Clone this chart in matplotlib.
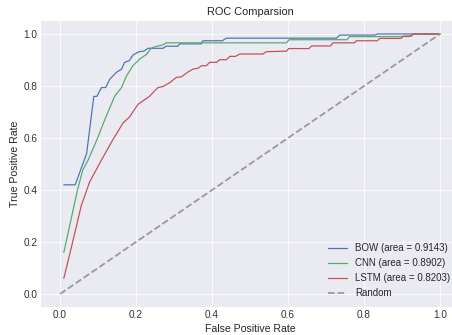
import numpy as np
import matplotlib
matplotlib.use('Agg')
import matplotlib.pyplot as plt

plt.style.use('seaborn-v0_8-darkgrid')
plt.rcParams['font.family'] = ['Liberation Sans', 'DejaVu Sans']

# ROC points
bow_fpr = [0.01, 0.04, 0.07, 0.089, 0.097, 0.109, 0.12, 0.131, 0.148, 0.162, 0.17, 0.182,
           0.192, 0.208, 0.22, 0.232, 0.271, 0.28, 0.31, 0.315, 0.372, 0.376, 0.427,
           0.438, 0.728, 0.736, 0.828, 0.835, 1.0]
bow_tpr = [0.42, 0.42, 0.54, 0.76, 0.76, 0.794, 0.794, 0.826, 0.852, 0.865, 0.891, 0.897,
           0.919, 0.932, 0.934, 0.945, 0.945, 0.953, 0.953, 0.962, 0.962, 0.974, 0.974,
           0.984, 0.984, 0.996, 0.996, 1.0, 1.0]

cnn_fpr = [0.01, 0.046, 0.06, 0.074, 0.097, 0.118, 0.144, 0.162, 0.175, 0.192, 0.21,
           0.227, 0.24, 0.254, 0.271, 0.28, 0.596, 0.603, 0.755, 0.762, 0.92, 0.928, 1.0]
cnn_tpr = [0.16, 0.40, 0.477, 0.515, 0.593, 0.671, 0.761, 0.794, 0.839, 0.878, 0.904,
           0.921, 0.945, 0.953, 0.958, 0.966, 0.966, 0.978, 0.978, 0.99, 0.99, 1.0, 1.0]

lstm_fpr = [0.01, 0.03, 0.056, 0.078, 0.109, 0.139, 0.166, 0.183, 0.205, 0.236, 0.249,
            0.258, 0.271, 0.289, 0.306, 0.319, 0.337, 0.35, 0.363, 0.372, 0.385, 0.394,
            0.412, 0.42, 0.438, 0.447, 0.462, 0.473, 0.534, 0.543, 0.596, 0.602, 0.655,
            0.662, 0.712, 0.718, 0.775, 0.78, 0.835, 0.841, 0.898, 0.903, 0.925, 0.93, 1.0]
lstm_tpr = [0.06, 0.18, 0.34, 0.431, 0.515, 0.593, 0.658, 0.681, 0.729, 0.761, 0.781,
            0.794, 0.798, 0.813, 0.833, 0.835, 0.854, 0.865, 0.868, 0.878, 0.878, 0.891,
            0.891, 0.901, 0.901, 0.914, 0.914, 0.923, 0.923, 0.932, 0.934, 0.944, 0.944,
            0.954, 0.954, 0.966, 0.966, 0.974, 0.974, 0.983, 0.983, 0.992, 0.992, 1.0, 1.0]

labels = ['BOW (area = 0.9143)', 'CNN (area = 0.8902)', 'LSTM (area = 0.8203)']
colors = ['#4C72B0', '#55A868', '#C44E52']

fig = plt.figure(figsize=(452 / 72, 335 / 72), dpi=72)
# original axes extend a bit past the right edge (picture was cropped)
ax = fig.add_axes([41 / 452, 28 / 335, 418 / 452, 286 / 335])

ax.plot(bow_fpr, bow_tpr, color=colors[0], lw=1.2, label=labels[0])
ax.plot(cnn_fpr, cnn_tpr, color=colors[1], lw=1.2, label=labels[1])
ax.plot(lstm_fpr, lstm_tpr, color=colors[2], lw=1.2, label=labels[2])
ax.plot([0, 1], [0, 1], '--', color='#999999', lw=1.8, label='Random')

ax.set_xlim(-0.05, 1.05)
ax.set_ylim(-0.05, 1.05)
ax.set_xticks([0.0, 0.2, 0.4, 0.6, 0.8, 1.0])
ax.set_yticks([0.0, 0.2, 0.4, 0.6, 0.8, 1.0])
ax.tick_params(labelsize=10, colors='#333333')
ax.set_xlabel('False Positive Rate', fontsize=10.5)
ax.set_ylabel('True Positive Rate', fontsize=10.5)
ax.set_title('ROC Comparsion', fontsize=11)
ax.legend(loc='lower right', fontsize=9.8, frameon=False)

fig.savefig('out.png', dpi=72)
